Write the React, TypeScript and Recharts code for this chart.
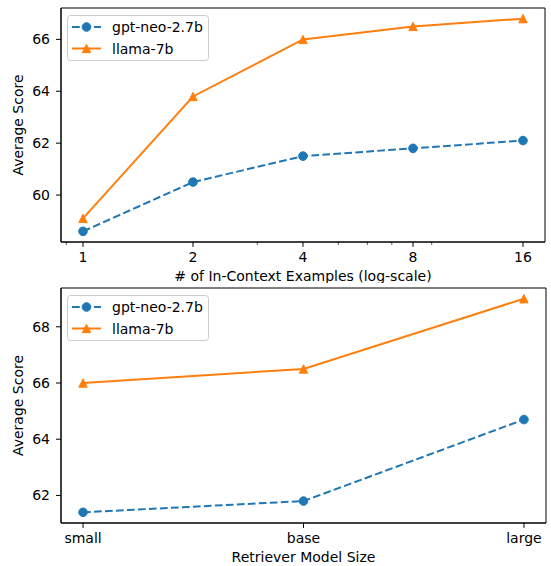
import React from 'react';
import { LineChart, Line, XAxis, YAxis, Legend, Label, ReferenceArea } from 'recharts';

// top panel: number of in-context examples (log2 axis)
const shotCounts = [1, 2, 4, 8, 16];
const gptNeoShots = [58.6, 60.5, 61.5, 61.8, 62.1];
const llamaShots = [59.1, 63.8, 66.0, 66.5, 66.8];
const shotTicks = [0.9, 1, 2, 3, 4, 5, 6, 7, 8, 9, 16];
const shotMinorTicks = [0.9, 3, 5, 6, 7, 9];
const shotYTicks = [60, 62, 64, 66];

// bottom panel: retriever model size
const retrieverSizes = ['small', 'base', 'large'];
const gptNeoRetriever = [61.4, 61.8, 64.7];
const llamaRetriever = [66.0, 66.5, 69.0];
const retrieverYTicks = [62, 64, 66, 68];

// axis limits (matplotlib-style 5% margins)
const shotXDomain = [0.8706, 18.38];
const shotYDomain = [58.19, 67.21];
const retrieverXDomain = [-0.1, 2.1];
const retrieverYDomain = [61.02, 69.38];

const BLUE = '#1f77b4';
const ORANGE = '#ff7f0e';
const FONT = 14;

const shotData = shotCounts.map((n, i) => ({ shots: n, gpt: gptNeoShots[i], llama: llamaShots[i] }));
const retrieverData = retrieverSizes.map((s, i) => ({ idx: i, gpt: gptNeoRetriever[i], llama: llamaRetriever[i] }));

const CircleDot = (props: any) => {
  const { cx, cy, index } = props;
  if (cx == null || cy == null) return <g key={index} />;
  return <circle key={index} cx={cx} cy={cy} r={4.3} fill={BLUE} stroke={BLUE} strokeWidth={1} />;
};

const TriangleDot = (props: any) => {
  const { cx, cy, index } = props;
  if (cx == null || cy == null) return <g key={index} />;
  const s = 4.2;
  return (
    <path
      key={index}
      d={`M${cx},${cy - s} L${cx - s},${cy + s} L${cx + s},${cy + s} Z`}
      fill={ORANGE}
      stroke={ORANGE}
      strokeWidth={1}
    />
  );
};

const XTick = (props: any) => {
  const { x, y, payload, minor = [], format } = props;
  const isMinor = minor.includes(payload.value);
  return (
    <g>
      <line x1={x} x2={x} y1={y} y2={y + (isMinor ? 2.8 : 4.9)} stroke="#000" strokeWidth={isMinor ? 0.7 : 1} />
      {!isMinor && (
        <text x={x} y={y + 20} textAnchor="middle" fontSize={FONT} fill="#000">
          {format ? format(payload.value) : payload.value}
        </text>
      )}
    </g>
  );
};

const XLabel = ({ viewBox, text }: any) => (
  <text x={viewBox.x + viewBox.width / 2} y={viewBox.y + 39} textAnchor="middle" fontSize={FONT} fill="#000">
    {text}
  </text>
);

const YLabel = ({ viewBox, text }: any) => {
  const x = viewBox.x + 23;
  const y = viewBox.y + viewBox.height / 2;
  return (
    <text x={x} y={y} transform={`rotate(-90, ${x}, ${y})`} textAnchor="middle" fontSize={FONT} fill="#000">
      {text}
    </text>
  );
};

const LegendBox = () => (
  <svg width={143} height={47} style={{ display: 'block' }}>
    <rect x={0.5} y={0.5} width={141} height={45} rx={3} fill="#fff" fillOpacity={0.8} stroke="#cccccc" />
    <line x1={5} x2={34} y1={12} y2={12} stroke={BLUE} strokeWidth={2} strokeDasharray="7.7 3.3" />
    <CircleDot cx={19.5} cy={12} />
    <text x={45} y={17} fontSize={FONT} fill="#000">gpt-neo-2.7b</text>
    <line x1={5} x2={34} y1={33.5} y2={33.5} stroke={ORANGE} strokeWidth={2} />
    <TriangleDot cx={19.5} cy={33.5} />
    <text x={45} y={38.5} fontSize={FONT} fill="#000">llama-7b</text>
  </svg>
);

export default function App() {
  return (
    <div style={{ position: 'absolute', left: 0, top: 0, width: 551, height: 566, background: '#fff', fontFamily: '"DejaVu Sans", sans-serif' }}>
      <LineChart width={551} height={283} data={shotData} margin={{ top: 8, right: 6, left: 0, bottom: 0 }}>
        <XAxis
          dataKey="shots"
          type="number"
          scale="log"
          domain={shotXDomain}
          allowDataOverflow
          ticks={shotTicks}
          interval={0}
          height={41}
          tickSize={0}
          tickMargin={0}
          tickLine={false}
          axisLine={{ stroke: '#000' }}
          tick={<XTick minor={shotMinorTicks} />}
        >
          <Label content={<XLabel text="# of In-Context Examples (log-scale)" />} />
        </XAxis>
        <YAxis
          type="number"
          domain={shotYDomain}
          allowDataOverflow
          ticks={shotYTicks}
          width={61}
          tickSize={5}
          tickMargin={6}
          tick={{ fill: '#000', fontSize: FONT }}
          tickLine={{ stroke: '#000' }}
          axisLine={{ stroke: '#000' }}
        >
          <Label content={<YLabel text="Average Score" />} />
        </YAxis>
        <ReferenceArea
          x1={shotXDomain[0]}
          x2={shotXDomain[1]}
          y1={shotYDomain[0]}
          y2={shotYDomain[1]}
          fill="none"
          stroke="#000"
          strokeWidth={1}
          ifOverflow="visible"
        />
        <Line dataKey="gpt" stroke={BLUE} strokeWidth={2} strokeDasharray="7.7 3.3" dot={CircleDot} activeDot={false} isAnimationActive={false} />
        <Line dataKey="llama" stroke={ORANGE} strokeWidth={2} dot={TriangleDot} activeDot={false} isAnimationActive={false} />
        <Legend layout="vertical" align="center" verticalAlign="middle" wrapperStyle={{ left: 67, top: 15, width: 'auto' }} content={() => <LegendBox />} />
      </LineChart>
      <LineChart width={551} height={283} data={retrieverData} margin={{ top: 5, right: 5, left: 0, bottom: 0 }}>
        <XAxis
          dataKey="idx"
          type="number"
          domain={retrieverXDomain}
          allowDataOverflow
          ticks={[0, 1, 2]}
          interval={0}
          height={43}
          tickSize={0}
          tickMargin={0}
          tickLine={false}
          axisLine={{ stroke: '#000' }}
          tick={<XTick format={(v: number) => retrieverSizes[v]} />}
        >
          <Label content={<XLabel text="Retriever Model Size" />} />
        </XAxis>
        <YAxis
          type="number"
          domain={retrieverYDomain}
          allowDataOverflow
          ticks={retrieverYTicks}
          width={61}
          tickSize={5}
          tickMargin={6}
          tick={{ fill: '#000', fontSize: FONT }}
          tickLine={{ stroke: '#000' }}
          axisLine={{ stroke: '#000' }}
        >
          <Label content={<YLabel text="Average Score" />} />
        </YAxis>
        <ReferenceArea
          x1={retrieverXDomain[0]}
          x2={retrieverXDomain[1]}
          y1={retrieverYDomain[0]}
          y2={retrieverYDomain[1]}
          fill="none"
          stroke="#000"
          strokeWidth={1}
          ifOverflow="visible"
        />
        <Line dataKey="gpt" stroke={BLUE} strokeWidth={2} strokeDasharray="7.7 3.3" dot={CircleDot} activeDot={false} isAnimationActive={false} />
        <Line dataKey="llama" stroke={ORANGE} strokeWidth={2} dot={TriangleDot} activeDot={false} isAnimationActive={false} />
        <Legend layout="vertical" align="center" verticalAlign="middle" wrapperStyle={{ left: 67, top: 12, width: 'auto' }} content={() => <LegendBox />} />
      </LineChart>
    </div>
  );
}
